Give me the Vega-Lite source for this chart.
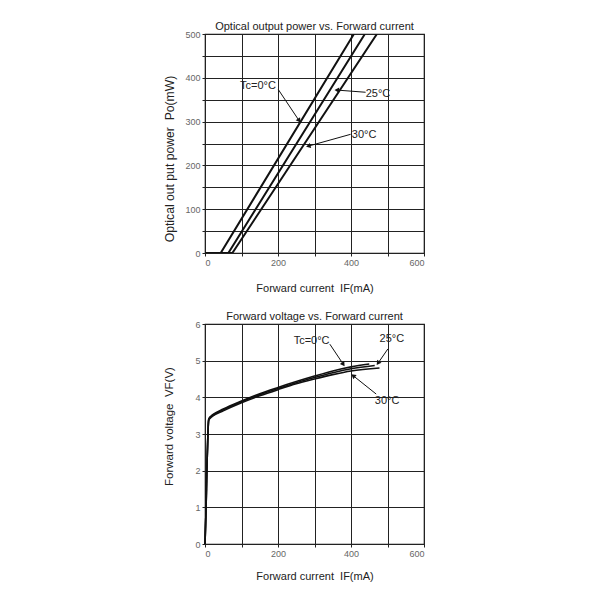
{
  "$schema": "https://vega.github.io/schema/vega-lite/v6.json",
  "background": "white",
  "padding": {"left": 162, "top": 20, "right": 10, "bottom": 10},
  "bounds": "flush",
  "spacing": 71,
  "config": {
    "font": "Liberation Sans",
    "view": {"stroke": "#111", "strokeWidth": 1.2},
    "title": {"fontSize": 11, "fontWeight": "normal", "color": "#222", "offset": -2, "anchor": "middle"},
    "axis": {
      "grid": true, "gridColor": "#222", "gridWidth": 1, "gridOpacity": 1,
      "domain": false, "ticks": true, "tickColor": "#222", "tickSize": 3,
      "labelColor": "#666", "labelFontSize": 9, "labelPadding": 2,
      "titleFontSize": 11, "titleFontWeight": "normal", "titleColor": "#222"
    }
  },
  "datasets": {
    "topLines": [
      {"s": "0", "I": 0, "P": 0}, {"s": "0", "I": 43, "P": 0}, {"s": "0", "I": 408, "P": 500},
      {"s": "25", "I": 0, "P": 0}, {"s": "25", "I": 64, "P": 0}, {"s": "25", "I": 438, "P": 500},
      {"s": "30", "I": 0, "P": 0}, {"s": "30", "I": 75, "P": 0}, {"s": "30", "I": 471, "P": 500}
    ],
    "topLabels": [
      {"t": "Tc=0°C", "x": 145, "y": 381},
      {"t": "25°C", "x": 474, "y": 363},
      {"t": "30°C", "x": 436, "y": 269}
    ],
    "topArrows": [
      {"a": "0", "x": 201, "y": 373, "x2": 258, "y2": 302},
      {"a": "25", "x": 440, "y": 367, "x2": 361, "y2": 372},
      {"a": "30", "x": 399, "y": 271, "x2": 283, "y2": 244}
    ],
    "botLines": [
      {"s": "0", "I": 0, "V": 0}, {"s": "0", "I": 3, "V": 1}, {"s": "0", "I": 5, "V": 2}, {"s": "0", "I": 8, "V": 3},
      {"s": "0", "I": 10, "V": 3.4}, {"s": "0", "I": 15, "V": 3.48}, {"s": "0", "I": 20, "V": 3.52}, {"s": "0", "I": 50, "V": 3.68},
      {"s": "0", "I": 100, "V": 3.9}, {"s": "0", "I": 150, "V": 4.1}, {"s": "0", "I": 200, "V": 4.27}, {"s": "0", "I": 250, "V": 4.43},
      {"s": "0", "I": 300, "V": 4.58}, {"s": "0", "I": 350, "V": 4.72}, {"s": "0", "I": 400, "V": 4.83}, {"s": "0", "I": 450, "V": 4.91},
      {"s": "25", "I": 0, "V": 0}, {"s": "25", "I": 3, "V": 1}, {"s": "25", "I": 5, "V": 2}, {"s": "25", "I": 8, "V": 3},
      {"s": "25", "I": 10, "V": 3.38}, {"s": "25", "I": 15, "V": 3.46}, {"s": "25", "I": 20, "V": 3.5}, {"s": "25", "I": 50, "V": 3.66},
      {"s": "25", "I": 100, "V": 3.88}, {"s": "25", "I": 150, "V": 4.07}, {"s": "25", "I": 200, "V": 4.24}, {"s": "25", "I": 250, "V": 4.4},
      {"s": "25", "I": 300, "V": 4.54}, {"s": "25", "I": 350, "V": 4.67}, {"s": "25", "I": 400, "V": 4.78}, {"s": "25", "I": 465, "V": 4.87},
      {"s": "30", "I": 0, "V": 0}, {"s": "30", "I": 3, "V": 1}, {"s": "30", "I": 5, "V": 2}, {"s": "30", "I": 8, "V": 3},
      {"s": "30", "I": 10, "V": 3.36}, {"s": "30", "I": 15, "V": 3.44}, {"s": "30", "I": 20, "V": 3.48}, {"s": "30", "I": 50, "V": 3.63},
      {"s": "30", "I": 100, "V": 3.85}, {"s": "30", "I": 150, "V": 4.04}, {"s": "30", "I": 200, "V": 4.21}, {"s": "30", "I": 250, "V": 4.37},
      {"s": "30", "I": 300, "V": 4.5}, {"s": "30", "I": 350, "V": 4.62}, {"s": "30", "I": 400, "V": 4.72}, {"s": "30", "I": 478, "V": 4.8}
    ],
    "botLabels": [
      {"t": "Tc=0°C", "x": 292, "y": 5.54},
      {"t": "25°C", "x": 512, "y": 5.59},
      {"t": "30°C", "x": 499, "y": 3.91}
    ],
    "botArrows": [
      {"a": "0", "x": 342, "y": 5.45, "x2": 379, "y2": 4.9},
      {"a": "25", "x": 501, "y": 5.32, "x2": 474, "y2": 4.93},
      {"a": "30", "x": 469, "y": 4.09, "x2": 406, "y2": 4.59}
    ]
  },
  "vconcat": [
    {
      "width": 219, "height": 219,
      "title": "Optical output power vs. Forward current",
      "layer": [
        {
          "data": {"name": "topLines"},
          "mark": {"type": "line", "color": "#111", "strokeWidth": 2, "clip": true},
          "encoding": {
            "x": {"field": "I", "type": "quantitative",
                  "scale": {"domain": [0, 600], "nice": false},
                  "axis": {"values": [0, 100, 200, 300, 400, 500, 600], "labelExpr": "datum.value % 200 == 0 ? datum.label : ''", "title": "Forward current\u00a0 IF(mA)", "titlePadding": 15}},
            "y": {"field": "P", "type": "quantitative",
                  "scale": {"domain": [0, 500], "nice": false},
                  "axis": {"values": [0, 50, 100, 150, 200, 250, 300, 350, 400, 450, 500], "labelExpr": "datum.value % 100 == 0 ? datum.label : ''", "title": "Optical out put power\u00a0 Po(mW)", "titlePadding": 8.5, "titleFontSize": 12.2, "titleY": 124.5}},
            "detail": {"field": "s"}
          }
        },
        {
          "data": {"name": "topArrows"},
          "mark": {"type": "rule", "color": "#111", "strokeWidth": 1},
          "encoding": {
            "x": {"field": "x", "type": "quantitative", "scale": {"domain": [0, 600], "nice": false},
                  "axis": {"values": [0, 100, 200, 300, 400, 500, 600], "labelExpr": "datum.value % 200 == 0 ? datum.label : ''", "title": "Forward current\u00a0 IF(mA)", "titlePadding": 15}},
            "y": {"field": "y", "type": "quantitative", "scale": {"domain": [0, 500], "nice": false},
                  "axis": {"values": [0, 50, 100, 150, 200, 250, 300, 350, 400, 450, 500], "labelExpr": "datum.value % 100 == 0 ? datum.label : ''", "title": "Optical out put power\u00a0 Po(mW)", "titlePadding": 8.5, "titleFontSize": 12.2, "titleY": 124.5}},
            "x2": {"field": "x2"}, "y2": {"field": "y2"}
          }
        },
        {
          "data": {"name": "topArrows"},
          "transform": [{"filter": "datum.a == '0'"}],
          "mark": {"type": "point", "shape": "triangle-up", "filled": true, "color": "#111", "size": 28, "opacity": 1, "angle": 146},
          "encoding": {
            "x": {"field": "x2", "type": "quantitative", "scale": {"domain": [0, 600], "nice": false},
                  "axis": {"values": [0, 100, 200, 300, 400, 500, 600], "labelExpr": "datum.value % 200 == 0 ? datum.label : ''", "title": "Forward current\u00a0 IF(mA)", "titlePadding": 15}},
            "y": {"field": "y2", "type": "quantitative", "scale": {"domain": [0, 500], "nice": false},
                  "axis": {"values": [0, 50, 100, 150, 200, 250, 300, 350, 400, 450, 500], "labelExpr": "datum.value % 100 == 0 ? datum.label : ''", "title": "Optical out put power\u00a0 Po(mW)", "titlePadding": 8.5, "titleFontSize": 12.2, "titleY": 124.5}}
          }
        },
        {
          "data": {"name": "topArrows"},
          "transform": [{"filter": "datum.a == '25'"}],
          "mark": {"type": "point", "shape": "triangle-up", "filled": true, "color": "#111", "size": 28, "opacity": 1, "angle": 274},
          "encoding": {
            "x": {"field": "x2", "type": "quantitative", "scale": {"domain": [0, 600], "nice": false},
                  "axis": {"values": [0, 100, 200, 300, 400, 500, 600], "labelExpr": "datum.value % 200 == 0 ? datum.label : ''", "title": "Forward current\u00a0 IF(mA)", "titlePadding": 15}},
            "y": {"field": "y2", "type": "quantitative", "scale": {"domain": [0, 500], "nice": false},
                  "axis": {"values": [0, 50, 100, 150, 200, 250, 300, 350, 400, 450, 500], "labelExpr": "datum.value % 100 == 0 ? datum.label : ''", "title": "Optical out put power\u00a0 Po(mW)", "titlePadding": 8.5, "titleFontSize": 12.2, "titleY": 124.5}}
          }
        },
        {
          "data": {"name": "topArrows"},
          "transform": [{"filter": "datum.a == '30'"}],
          "mark": {"type": "point", "shape": "triangle-up", "filled": true, "color": "#111", "size": 28, "opacity": 1, "angle": 255},
          "encoding": {
            "x": {"field": "x2", "type": "quantitative", "scale": {"domain": [0, 600], "nice": false},
                  "axis": {"values": [0, 100, 200, 300, 400, 500, 600], "labelExpr": "datum.value % 200 == 0 ? datum.label : ''", "title": "Forward current\u00a0 IF(mA)", "titlePadding": 15}},
            "y": {"field": "y2", "type": "quantitative", "scale": {"domain": [0, 500], "nice": false},
                  "axis": {"values": [0, 50, 100, 150, 200, 250, 300, 350, 400, 450, 500], "labelExpr": "datum.value % 100 == 0 ? datum.label : ''", "title": "Optical out put power\u00a0 Po(mW)", "titlePadding": 8.5, "titleFontSize": 12.2, "titleY": 124.5}}
          }
        },
        {
          "data": {"name": "topLabels"},
          "mark": {"type": "text", "fontSize": 11, "color": "#222", "align": "center", "baseline": "middle"},
          "encoding": {
            "x": {"field": "x", "type": "quantitative", "scale": {"domain": [0, 600], "nice": false},
                  "axis": {"values": [0, 100, 200, 300, 400, 500, 600], "labelExpr": "datum.value % 200 == 0 ? datum.label : ''", "title": "Forward current\u00a0 IF(mA)", "titlePadding": 15}},
            "y": {"field": "y", "type": "quantitative", "scale": {"domain": [0, 500], "nice": false},
                  "axis": {"values": [0, 50, 100, 150, 200, 250, 300, 350, 400, 450, 500], "labelExpr": "datum.value % 100 == 0 ? datum.label : ''", "title": "Optical out put power\u00a0 Po(mW)", "titlePadding": 8.5, "titleFontSize": 12.2, "titleY": 124.5}},
            "text": {"field": "t"}
          }
        }
      ]
    },
    {
      "width": 219, "height": 220,
      "title": "Forward voltage vs. Forward current",
      "layer": [
        {
          "data": {"name": "botLines"},
          "mark": {"type": "line", "color": "#111", "strokeWidth": 1.6, "interpolate": "monotone"},
          "encoding": {
            "x": {"field": "I", "type": "quantitative", "scale": {"domain": [0, 600], "nice": false},
                  "axis": {"values": [0, 100, 200, 300, 400, 500, 600], "labelExpr": "datum.value % 200 == 0 ? datum.label : ''", "title": "Forward current\u00a0 IF(mA)", "titlePadding": 12}},
            "y": {"field": "V", "type": "quantitative", "scale": {"domain": [0, 6], "nice": false},
                  "axis": {"values": [0, 1, 2, 3, 4, 5, 6], "title": "Forward voltage\u00a0 VF(V)", "titlePadding": 20, "titleFontSize": 11.5, "titleY": 102}},
            "detail": {"field": "s"}
          }
        },
        {
          "data": {"name": "botArrows"},
          "mark": {"type": "rule", "color": "#111", "strokeWidth": 1},
          "encoding": {
            "x": {"field": "x", "type": "quantitative", "scale": {"domain": [0, 600], "nice": false},
                  "axis": {"values": [0, 100, 200, 300, 400, 500, 600], "labelExpr": "datum.value % 200 == 0 ? datum.label : ''", "title": "Forward current\u00a0 IF(mA)", "titlePadding": 12}},
            "y": {"field": "y", "type": "quantitative", "scale": {"domain": [0, 6], "nice": false},
                  "axis": {"values": [0, 1, 2, 3, 4, 5, 6], "title": "Forward voltage\u00a0 VF(V)", "titlePadding": 20, "titleFontSize": 11.5, "titleY": 102}},
            "x2": {"field": "x2"}, "y2": {"field": "y2"}
          }
        },
        {
          "data": {"name": "botArrows"},
          "transform": [{"filter": "datum.a == '0'"}],
          "mark": {"type": "point", "shape": "triangle-up", "filled": true, "color": "#111", "size": 28, "opacity": 1, "angle": 146},
          "encoding": {
            "x": {"field": "x2", "type": "quantitative", "scale": {"domain": [0, 600], "nice": false},
                  "axis": {"values": [0, 100, 200, 300, 400, 500, 600], "labelExpr": "datum.value % 200 == 0 ? datum.label : ''", "title": "Forward current\u00a0 IF(mA)", "titlePadding": 12}},
            "y": {"field": "y2", "type": "quantitative", "scale": {"domain": [0, 6], "nice": false},
                  "axis": {"values": [0, 1, 2, 3, 4, 5, 6], "title": "Forward voltage\u00a0 VF(V)", "titlePadding": 20, "titleFontSize": 11.5, "titleY": 102}}
          }
        },
        {
          "data": {"name": "botArrows"},
          "transform": [{"filter": "datum.a == '25'"}],
          "mark": {"type": "point", "shape": "triangle-up", "filled": true, "color": "#111", "size": 28, "opacity": 1, "angle": 215},
          "encoding": {
            "x": {"field": "x2", "type": "quantitative", "scale": {"domain": [0, 600], "nice": false},
                  "axis": {"values": [0, 100, 200, 300, 400, 500, 600], "labelExpr": "datum.value % 200 == 0 ? datum.label : ''", "title": "Forward current\u00a0 IF(mA)", "titlePadding": 12}},
            "y": {"field": "y2", "type": "quantitative", "scale": {"domain": [0, 6], "nice": false},
                  "axis": {"values": [0, 1, 2, 3, 4, 5, 6], "title": "Forward voltage\u00a0 VF(V)", "titlePadding": 20, "titleFontSize": 11.5, "titleY": 102}}
          }
        },
        {
          "data": {"name": "botArrows"},
          "transform": [{"filter": "datum.a == '30'"}],
          "mark": {"type": "point", "shape": "triangle-up", "filled": true, "color": "#111", "size": 28, "opacity": 1, "angle": 308},
          "encoding": {
            "x": {"field": "x2", "type": "quantitative", "scale": {"domain": [0, 600], "nice": false},
                  "axis": {"values": [0, 100, 200, 300, 400, 500, 600], "labelExpr": "datum.value % 200 == 0 ? datum.label : ''", "title": "Forward current\u00a0 IF(mA)", "titlePadding": 12}},
            "y": {"field": "y2", "type": "quantitative", "scale": {"domain": [0, 6], "nice": false},
                  "axis": {"values": [0, 1, 2, 3, 4, 5, 6], "title": "Forward voltage\u00a0 VF(V)", "titlePadding": 20, "titleFontSize": 11.5, "titleY": 102}}
          }
        },
        {
          "data": {"name": "botLabels"},
          "mark": {"type": "text", "fontSize": 11, "color": "#222", "align": "center", "baseline": "middle"},
          "encoding": {
            "x": {"field": "x", "type": "quantitative", "scale": {"domain": [0, 600], "nice": false},
                  "axis": {"values": [0, 100, 200, 300, 400, 500, 600], "labelExpr": "datum.value % 200 == 0 ? datum.label : ''", "title": "Forward current\u00a0 IF(mA)", "titlePadding": 12}},
            "y": {"field": "y", "type": "quantitative", "scale": {"domain": [0, 6], "nice": false},
                  "axis": {"values": [0, 1, 2, 3, 4, 5, 6], "title": "Forward voltage\u00a0 VF(V)", "titlePadding": 20, "titleFontSize": 11.5, "titleY": 102}},
            "text": {"field": "t"}
          }
        }
      ]
    }
  ]
}
